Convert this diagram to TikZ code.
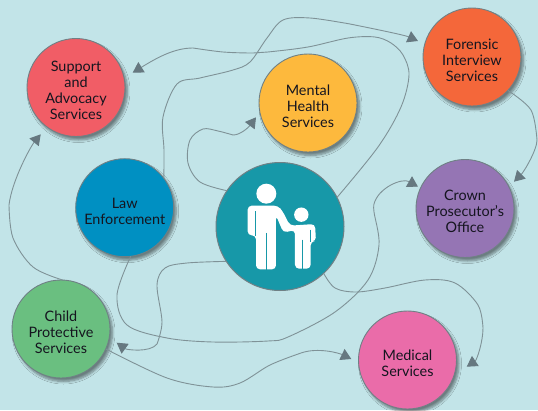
\documentclass[tikz,border=0pt]{standalone}
\usepackage{fontspec}
\setmainfont{Lato}
\usetikzlibrary{arrows.meta,shadows.blur}
\definecolor{bgc}{HTML}{C2E4E8}
\definecolor{linec}{HTML}{7F9297}
\definecolor{tipc}{HTML}{667880}
\definecolor{edgec}{HTML}{6F8085}
\definecolor{txtc}{HTML}{15151F}
\definecolor{csup}{HTML}{F15D66}
\definecolor{claw}{HTML}{0090C2}
\definecolor{cmen}{HTML}{FDB93D}
\definecolor{cfor}{HTML}{F4673A}
\definecolor{ccro}{HTML}{9575B4}
\definecolor{cmed}{HTML}{EA6CA9}
\definecolor{cchi}{HTML}{6ABF80}
\definecolor{ccen}{HTML}{1798A8}
\newcommand{\dropline}{\rule{0pt}{17pt}}
\tikzset{
  service/.style={circle,draw=edgec,line width=0.9pt,minimum size=98pt,inner sep=0pt,outer sep=0pt,
    align=center,text=txtc,font=\fontsize{14.4}{16}\selectfont,
    blur shadow={shadow xshift=2.5pt,shadow yshift=-3.5pt,shadow blur steps=6,shadow blur radius=2.5pt,shadow opacity=45}},
  hub/.style={circle,draw=edgec,line width=1pt,minimum size=128pt,inner sep=0pt,outer sep=0pt,fill=ccen},
  link/.style={draw=linec,line width=0.9pt},
  linkarrow/.style={link,-{Triangle[length=10.4pt,width=12pt,fill=tipc,color=tipc]}},
  sliver/.style={draw=ccen,line width=0.6pt}
}
\begin{document}
\begin{tikzpicture}[x=1pt,y=-1pt]
\useasboundingbox (0,0) rectangle (538,410);
\fill[bgc] (0,0) rectangle (538,410);
% nodes
\node[service,fill=csup] (support) at (76,87.5) {\dropline Support\\and\\Advocacy\\Services};
\node[service,fill=claw] (law) at (124.7,207.7) {\dropline Law\\Enforcement};
\node[service,fill=cmen] (mental) at (308,103) {\dropline Mental\\Health\\Services};
\node[service,fill=cfor] (forensic) at (472,57) {\dropline Forensic\\Interview\\Services};
\node[service,fill=ccro] (crown) at (465,208.5) {\dropline Crown\\Prosecutor’s\\Office};
\node[service,fill=cmed] (medical) at (407.5,360) {\dropline Medical\\Services};
\node[service,fill=cchi] (child) at (61,329) {\dropline Child\\Protective\\Services};
\node[hub] (center) at (280,226.5) {};
% arrow ends
\coordinate (tipForensic) at (418,41);
\coordinate (tipSupportA) at (132.7,72.7);
\coordinate (tipMental) at (256,117.3);
\coordinate (tipSupportB) at (40.7,134.3);
\coordinate (tipCrownA) at (418,186.7);
\coordinate (tipCrownB) at (514,181.7);
\coordinate (tipChild) at (116.7,342.7);
\coordinate (tipMedicalA) at (351.3,359);
\coordinate (tipMedicalB) at (466.7,366.7);
% connectors
\draw[linkarrow] plot[smooth,tension=0.55] coordinates {(law.37) (164,150) (163,117) (177,84) (200,78) (233,70) (250,62) (267,38) (283,20) (310,18) (350,24)}
  .. controls (375,29) and (405.3,35.3) .. (tipForensic);
\draw[linkarrow] plot[smooth,tension=0.55] coordinates {(center.27) (378,147) (401,107) (409,75) (403,55) (391,43) (375,37) (348,38) (308,47) (268,52) (253,53) (223,52) (193,48)}
  .. controls (175,48) and (158,57) .. (tipSupportA);
\draw[linkarrow] plot[smooth,tension=0.55] coordinates {(center.146) (200,182) (188,163) (190,140) (203,129) (218,131) (233,135)}
  .. controls (240,135) and (248,128) .. (tipMental);
\draw[linkarrow] plot[smooth,tension=0.55] coordinates {(child.88) (33,267) (13,238) (9,205)}
  .. controls (12,180) and (31,146) .. (tipSupportB);
\draw[linkarrow] plot[smooth,tension=0.55] coordinates {(law.277) (117,295) (127,325) (167,338) (213,342) (268,341) (288,337) (335,312) (368,280) (379,245) (374,212) (374,204)}
  .. controls (378,188) and (402,177.5) .. (tipCrownA);
\draw[linkarrow] plot[smooth,tension=0.55] coordinates {(forensic.317) (531,110) (537,140)}
  .. controls (537,150) and (524,171.7) .. (tipCrownB);
\draw[linkarrow] plot[smooth,tension=0.55] coordinates {(center.213) (187,263) (165,268) (157,285) (162,322) (157,344)}
  .. controls (150,353) and (126.4,349.7) .. (tipChild);
\draw[linkarrow] plot[smooth,tension=0.55] coordinates {(child.336.5) (167,378) (213,387) (240,383) (270,365) (301,353)}
  .. controls (318,347) and (339.3,353.2) .. (tipMedicalA);
\draw[linkarrow] plot[smooth,tension=0.55] coordinates {(center.313.5) (335,288) (356,292) (385,288) (425,280) (455,283) (478,305) (483,328)}
  .. controls (483,342) and (476.8,360) .. (tipMedicalB);
% figures
\begin{scope}[shift={(240,178)},x=0.3333pt,y=-0.3333pt]
  \fill[white] (79,47) circle[radius=10pt];
  \fill[white] (184,110) circle[radius=7.2pt];
  \fill[white,rounded corners=4pt] (23,172) -- (23,83) -- (114,83) -- (128,100) -- (150,143) -- (225,138) -- (228,190) -- (212,190) -- (212,272) -- (165,272) -- (165,156) -- (130,164) -- (108,112) -- (108,274) -- (48,274) -- (48,172) -- cycle;
  \draw[sliver] (47,100) -- (47,174);
  \draw[sliver] (78,165) -- (78,276);
  \draw[sliver] (188,185) -- (188,274);
  \draw[sliver] (212,155) -- (212,192);
\end{scope}
\end{tikzpicture}
\end{document}
